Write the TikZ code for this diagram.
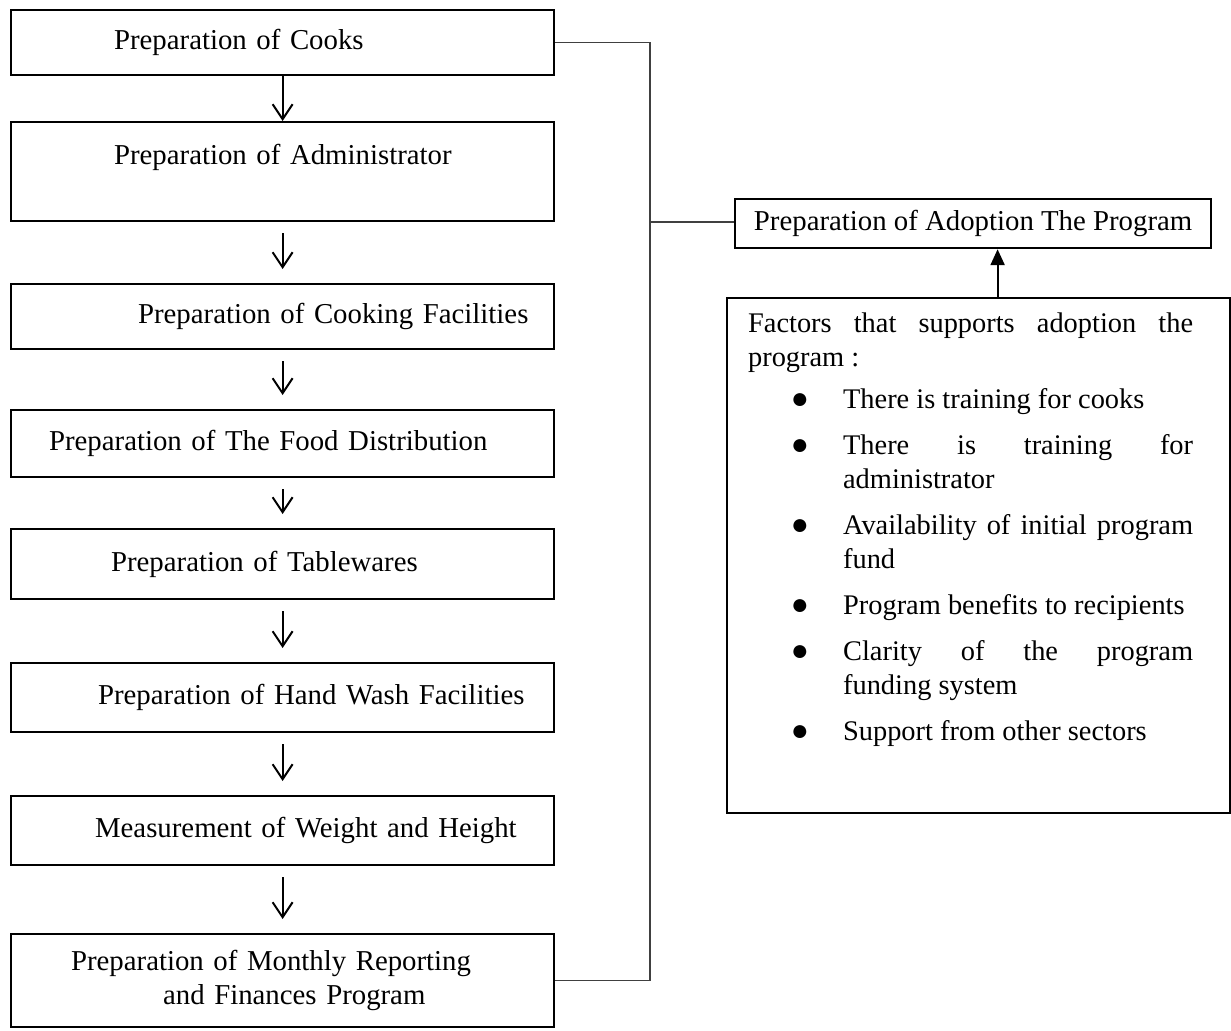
\documentclass[tikz,border=0pt]{standalone}
\usepackage{fontspec}
\setmainfont{Liberation Serif}
\usepackage{enumitem}
\usetikzlibrary{arrows.meta}

\newcommand{\pushin}[1]{\hspace*{#1pt}}
\newcommand{\bigdot}{{\fontsize{15pt}{15pt}\selectfont ●}}

\begin{document}
\begin{tikzpicture}[x=0.5pt, y=-0.5pt, font=\fontsize{14.4pt}{17pt}\selectfont, >={Straight Barb[length=7.5pt,width=10pt]}]
\tikzset{stepbox/.style={draw, black, line width=1.1pt, rectangle, inner xsep=0pt, inner ysep=0pt, anchor=north west, text width=271.5pt, align=left, minimum height=#1}}
\tikzset{flow/.style={->, line width=1pt, black}}
\tikzset{link/.style={draw=black!75, line width=0.8pt}}
\useasboundingbox (0,0) rectangle (1231,1030);
%% define coordinate grid
\def \xbox {10}
\def \xspine {650}
\def \gapin {5.5pt}
\def \gapout {7pt}

%% steps of the program
\node [stepbox=32.5pt] (cooks) at (\xbox,9) {\pushin{51.5}Preparation of Cooks};
\node [stepbox=49.5pt] (admin) at (\xbox,121) {\pushin{51.5}Preparation of Administrator\\~};
\node [stepbox=32.5pt] (cooking) at (\xbox,283) {\pushin{63.5}Preparation of Cooking Facilities};
\node [stepbox=33.5pt] (food) at (\xbox,409) {\pushin{19}Preparation of The Food Distribution};
\node [stepbox=35pt] (tableware) at (\xbox,528) {\pushin{50}Preparation of Tablewares};
\node [stepbox=34.5pt] (handwash) at (\xbox,662) {\pushin{43.5}Preparation of Hand Wash Facilities};
\node [stepbox=34.5pt] (measure) at (\xbox,795) {\pushin{42}Measurement of Weight and Height};
\node [stepbox=46.5pt] (monthly) at (\xbox,933) {\pushin{30}Preparation of Monthly Reporting\\\pushin{76}and Finances Program};
% paths
\draw [flow] (cooks.south) -- (admin.north);
\draw [flow, shorten <=\gapin, shorten >=\gapout] (admin.south) -- (cooking.north);
\draw [flow, shorten <=\gapin, shorten >=\gapout] (cooking.south) -- (food.north);
\draw [flow, shorten <=\gapin, shorten >=\gapout] (food.south) -- (tableware.north);
\draw [flow, shorten <=\gapin, shorten >=\gapout] (tableware.south) -- (handwash.north);
\draw [flow, shorten <=\gapin, shorten >=\gapout] (handwash.south) -- (measure.north);
\draw [flow, shorten <=\gapin, shorten >=\gapout] (measure.south) -- (monthly.north);

%% adoption side
\node [draw, line width=1.1pt, anchor=north west, minimum width=238pt, minimum height=24.5pt] (adoption) at (734,198) {Preparation of Adoption The Program};
\node [draw, line width=1.1pt, anchor=north west, inner xsep=0pt, inner ysep=7.5pt] (factors) at (726,297) {%
\hspace*{10.5pt}\begin{minipage}{222.5pt}\fontsize{14.2pt}{17pt}\selectfont
Factors that supports adoption the\linebreak program :
\begin{itemize}[label=\bigdot, leftmargin=47.5pt, labelsep=17pt, itemsep=6pt, topsep=4pt, parsep=0pt, partopsep=0pt]
\item There is training for cooks
\item There is training for\linebreak administrator
\item Availability of initial program\linebreak fund
\item Program benefits to recipients
\item Clarity of the program\linebreak funding system
\item Support from other sectors
\end{itemize}
\vspace*{21.5pt}
\end{minipage}\hspace*{18.5pt}};
% bracket joining the steps
\coordinate (spine) at (\xspine,222);
\draw [link] (cooks.east) -| (spine) |- (monthly.east);
\draw [link] (spine) -- (spine -| adoption.west);
\draw [line width=1.1pt, black, -{Triangle[length=8pt,width=7pt]}] ([xshift=9.5pt]factors.north) -- ([xshift=9.5pt]factors.north |- adoption.south);
\end{tikzpicture}
\end{document}
